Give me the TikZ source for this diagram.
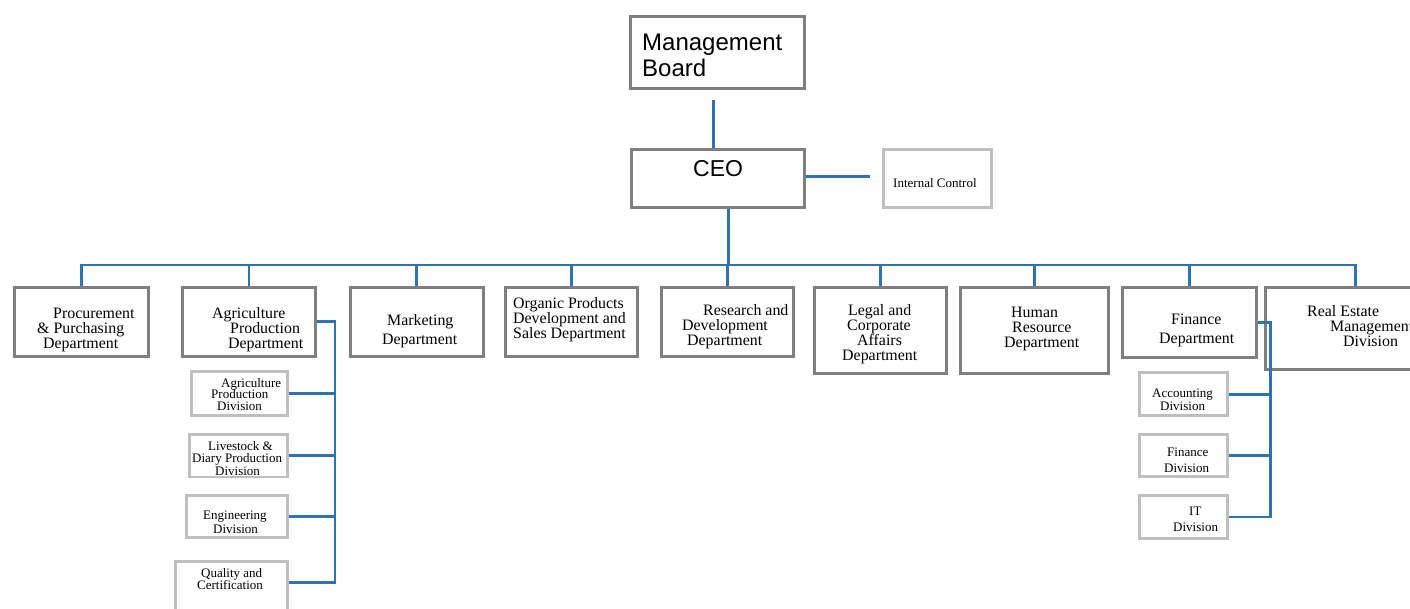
\documentclass[tikz,border=0pt]{standalone}
\usepackage{fontspec}
\setmainfont{Liberation Serif}
\newfontfamily\arialf{Liberation Sans}
\newcommand\Ln[2]{\hbox{\kern#1pt #2}}
\newcommand\Lines[1]{\vtop{\lineskiplimit=-100pt #1}}
\definecolor{boxgray}{HTML}{7F7F7F}
\definecolor{subgray}{HTML}{BFBFBF}
\definecolor{lineblue}{HTML}{2E74B5}
\begin{document}
\begin{tikzpicture}[x=1pt,y=-1pt,
  dept/.style={draw=boxgray, line width=3.3pt, fill=white, inner sep=0pt, anchor=north west},
  sub/.style={draw=subgray, line width=2.8pt, fill=white, inner sep=0pt, anchor=north west},
  conn/.style={draw=lineblue, line width=2.7pt},
  txt/.style={anchor=base west, inner sep=0pt},
  bigA/.style={font=\fontsize{15.9}{15}\selectfont},
  bigB/.style={font=\fontsize{15.9}{19}\selectfont},
]
\useasboundingbox (0,0) rectangle (1410,608);

% boxes
\node[dept, minimum width=174, minimum height=72] (mb) at (628.5,14.5) {};
\node[dept, minimum width=173, minimum height=58] (ceo) at (629.5,147.5) {};
\node[draw=subgray, line width=2.5pt, inner sep=0pt, anchor=north west, minimum width=108, minimum height=58] (ic) at (882,148) {};

\node[dept, minimum width=134, minimum height=69] (proc) at (12.5,285.5) {};
\node[dept, minimum width=133.5, minimum height=69] (agri) at (180.5,285.5) {};
\node[dept, minimum width=133, minimum height=69] (mkt) at (348.5,285.5) {};
\node[dept, minimum width=132, minimum height=69] (org) at (503.5,285.5) {};
\node[dept, minimum width=132, minimum height=69] (rd) at (659.5,285.5) {};
\node[dept, minimum width=132, minimum height=86] (legal) at (812.5,285.5) {};
\node[dept, minimum width=148, minimum height=86] (hr) at (958.5,285.5) {};
\node[dept, minimum width=134, minimum height=70] (fin) at (1120.5,285.5) {};
\node[dept, minimum width=180, minimum height=82] (re) at (1263.5,285.5) {};

\node[sub, minimum width=95.5, minimum height=43.5] (apd) at (190.25,370.25) {};
\node[sub, minimum width=97.5, minimum height=42.5] (lsd) at (188.25,433) {};
\node[sub, minimum width=100.5, minimum height=42] (eng) at (185.25,494.25) {};
\node[sub, minimum width=111.5, minimum height=60] (qc) at (174.25,560.25) {};

\node[sub, minimum width=88, minimum height=43] (acc) at (1138,371.25) {};
\node[sub, minimum width=88, minimum height=42] (fdiv) at (1138,433.25) {};
\node[sub, minimum width=88, minimum height=43] (it) at (1138,494) {};

% texts
\node[txt, font=\arialf\fontsize{24}{26}\selectfont] (mb-t) at (642,50.5) {\Lines{\Ln{0}{Management}\Ln{0}{Board}}};
\node[txt, font=\arialf\fontsize{23}{26}\selectfont] (ceo-t) at (693,176) {CEO};
\node[txt, font=\fontsize{13}{15}\selectfont] (ic-t) at (893,187) {Internal Control};

\node[txt, bigA] (proc-t) at (37,318) {\Lines{\Ln{16}{Procurement}\Ln{0}{\& Purchasing}\Ln{6}{Department}}};
\node[txt, bigA] (agri-t) at (212,318) {\Lines{\Ln{0}{Agriculture}\Ln{18}{Production}\Ln{16}{Department}}};
\node[txt, bigB] (mkt-t) at (382,325) {\Lines{\Ln{5}{Marketing}\Ln{0}{Department}}};
\node[txt, bigA] (org-t) at (513,308) {\Lines{\Ln{0}{Organic Products}\Ln{0}{Development and}\Ln{0}{Sales Department}}};
\node[txt, bigA] (rd-t) at (682,315) {\Lines{\Ln{21}{Research and}\Ln{0}{Development}\Ln{5}{Department}}};
\node[txt, bigA] (legal-t) at (842,315) {\Lines{\Ln{6}{Legal and}\Ln{5}{Corporate}\Ln{15}{Affairs}\Ln{0}{Department}}};
\node[txt, bigA] (hr-t) at (1004,317) {\Lines{\Ln{7}{Human}\Ln{8}{Resource}\Ln{0}{Department}}};
\node[txt, bigB] (fin-t) at (1159,324) {\Lines{\Ln{12}{Finance}\Ln{0}{Department}}};
\node[txt, bigA] (re-t) at (1307,316) {\Lines{\Ln{0}{Real Estate}\Ln{23}{Management}\Ln{36}{Division}}};

\node[txt, font=\fontsize{13}{11.5}\selectfont] (apd-t) at (211,387) {\Lines{\Ln{10}{Agriculture}\Ln{0}{Production}\Ln{6}{Division}}};
\node[txt, font=\fontsize{13}{12.5}\selectfont] (lsd-t) at (192,450) {\Lines{\Ln{16}{Livestock \&}\Ln{0}{Diary Production}\Ln{23}{Division}}};
\node[txt, font=\fontsize{13}{14}\selectfont] (eng-t) at (203,519) {\Lines{\Ln{0}{Engineering}\Ln{10}{Division}}};
\node[txt, font=\fontsize{13}{12}\selectfont] (qc-t) at (197,577) {\Lines{\Ln{4}{Quality and}\Ln{0}{Certification}}};

\node[txt, font=\fontsize{13}{13.5}\selectfont] (acc-t) at (1152,397) {\Lines{\Ln{0}{Accounting}\Ln{8}{Division}}};
\node[txt, font=\fontsize{13}{16}\selectfont] (fdiv-t) at (1164,456) {\Lines{\Ln{3}{Finance}\Ln{0}{Division}}};
\node[txt, font=\fontsize{13}{16}\selectfont] (it-t) at (1173,515) {\Lines{\Ln{16}{IT}\Ln{0}{Division}}};

% connectors
\coordinate (mbd) at ([xshift=-4pt,yshift=-10.5pt]mb.south);
\draw[conn] (mbd) -- (mbd |- ceo.north);
\coordinate (icend) at ([xshift=-12pt]ic.west);
\coordinate (ceoe) at ([yshift=2pt]ceo.east);
\draw[conn] (ceoe) -- (ceoe -| icend);

\coordinate (busy) at (0,265);
\coordinate (ceod) at ([xshift=10.5pt]ceo.south);
\draw[conn] (ceod) -- (ceod |- busy);
\draw[conn] (proc.north) -- (proc.north |- busy) -| (re.north);
\foreach \n in {agri,mkt,org,rd,legal,hr,fin}
  \draw[conn] (\n.north) -- (\n.north |- busy);

\coordinate (aspine) at (335,0);
\coordinate (qcb) at ([yshift=-22pt]qc.north east);
\draw[conn] (agri.east) -| (aspine |- qcb) -- (qcb);
\foreach \n in {apd,lsd,eng}
  \draw[conn] (\n.east) -- (\n.east -| aspine);

\coordinate (fspine) at (1270.5,0);
\draw[conn] (fin.east) -| (fspine |- it.east) -- (it.east);
\foreach \n in {acc,fdiv}
  \draw[conn] (\n.east) -- (\n.east -| fspine);
\end{tikzpicture}
\end{document}
